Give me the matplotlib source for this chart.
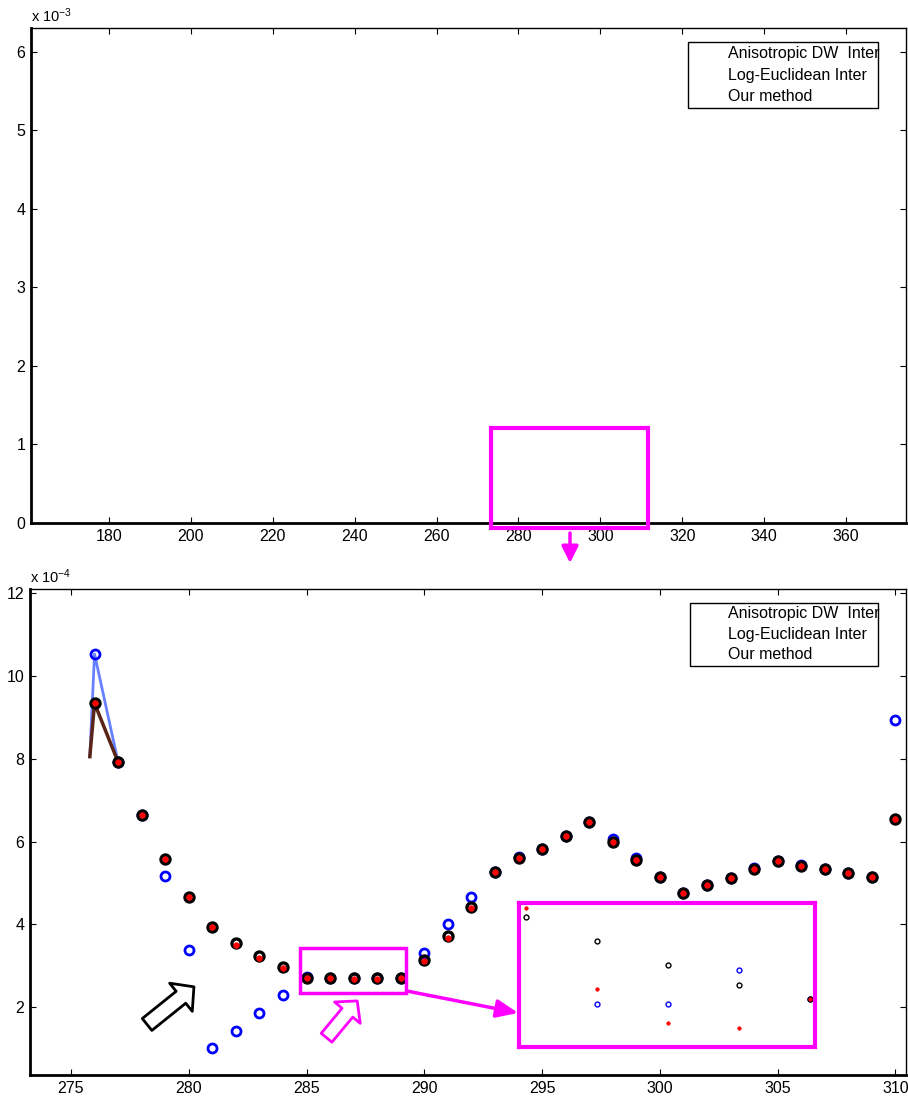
import matplotlib
matplotlib.use("Agg")
import matplotlib.pyplot as plt
from matplotlib.patches import Rectangle

plt.rcParams.update({
    "font.family": ["Liberation Sans", "DejaVu Sans"],
    "font.size": 10,
    "mathtext.default": "regular",
})

MAGENTA = "#ff00ff"
TICK_FONT = ["Liberation Sans Narrow", "Liberation Sans", "DejaVu Sans"]

# top overview axis
top_xticks = [180, 200, 220, 240, 260, 280, 300, 320, 340, 360]
top_yticks = [0, 1, 2, 3, 4, 5, 6]
zoom_box_x = [273.4, 311.7]
zoom_box_y = [-0.06, 1.21]

# bottom detail axis (values in units of 1e-4)
days = list(range(276, 311))
log_euclid = [10.53, 7.92, 6.64, 5.17, 3.39, 1.01, 1.43, 1.86, 2.29,
              2.720, 2.694, 2.694, 2.701, 2.695,
              3.31, 4.00, 4.66, 5.27, 5.63, 5.83, 6.13, 6.46, 6.07, 5.61,
              5.14, 4.76, 4.94, 5.13, 5.37, 5.53, 5.44, 5.33, 5.23, 5.14, 8.93]
aniso_dw = [9.34, 7.92, 6.64, 5.58, 4.67, 3.93, 3.55, 3.24, 2.96,
            2.712, 2.707, 2.702, 2.698, 2.695,
            3.14, 3.72, 4.42, 5.27, 5.59, 5.83, 6.13, 6.46, 5.99, 5.55,
            5.14, 4.76, 4.94, 5.13, 5.34, 5.53, 5.42, 5.33, 5.23, 5.14, 6.55]
our_method = [9.34, 7.92, 6.64, 5.58, 4.67, 3.93, 3.50, 3.19, 2.94,
              2.714, 2.697, 2.690, 2.689, 2.695,
              3.12, 3.68, 4.40, 5.27, 5.59, 5.83, 6.13, 6.46, 5.99, 5.55,
              5.14, 4.76, 4.94, 5.13, 5.34, 5.53, 5.42, 5.33, 5.23, 5.14, 6.55]

# short connecting line segments at the start
line_x = [275.8, 276, 277]
line_le = [8.05, 10.53, 7.92]
line_dw = [8.05, 9.34, 7.92]

bottom_xticks = [275, 280, 285, 290, 295, 300, 305, 310]
bottom_yticks = [2, 4, 6, 8, 10, 12]
small_box_x = [284.72, 289.22]
small_box_y = [2.34, 3.42]
inset_xlim = [284.905, 289.07]
inset_ylim = [2.685, 2.715]

legend_labels = ["Anisotropic DW  Inter", "Log-Euclidean Inter", "Our method"]


def style_axis(ax):
    ax.tick_params(direction="in", length=4, width=0.8, top=True, right=True,
                   labelsize=11.5, pad=4, colors="black")
    for lab in ax.get_xticklabels() + ax.get_yticklabels():
        lab.set_family(TICK_FONT)
    for side in ["left", "bottom"]:
        ax.spines[side].set_linewidth(2)
    for side in ["top", "right"]:
        ax.spines[side].set_linewidth(1)


def box_legend(ax, x0, x1, y0, y1, tx, ty):
    rect = Rectangle((x0, y0), x1 - x0, y1 - y0, transform=ax.transAxes,
                     fill=True, fc="white", ec="black", lw=1, zorder=5)
    ax.add_patch(rect)
    for lab, y in zip(legend_labels, ty):
        t = ax.text(tx, y, lab, transform=ax.transAxes, fontsize=11.5,
                    va="center", ha="left", zorder=6)
        t.set_clip_path(rect)


fig = plt.figure(figsize=(9.08, 10.99), dpi=100)

# ---- top axes
ax1 = fig.add_axes([31 / 908, 1 - 523 / 1099, 875 / 908, 495 / 1099])
ax1.set_xlim(161, 374.6)
ax1.set_ylim(0, 6.3)
ax1.set_xticks(top_xticks)
ax1.set_yticks(top_yticks)
style_axis(ax1)
ax1.add_patch(Rectangle((zoom_box_x[0], zoom_box_y[0]), zoom_box_x[1] - zoom_box_x[0],
                        zoom_box_y[1] - zoom_box_y[0], fill=False, ec=MAGENTA,
                        lw=3, clip_on=False, zorder=4))
box_legend(ax1, 0.7509, 0.968, 0.8384, 0.9717, 0.7966, [0.9475, 0.905, 0.8626])
fig.text(31 / 908, 1 - 22 / 1099, "x 10$^{-3}$", fontsize=10.5, ha="left", va="baseline")

# arrow between the panels
ax1.annotate("", xy=(570 / 908, 1 - 563 / 1099), xycoords="figure fraction",
             xytext=(570 / 908, 1 - 533 / 1099), textcoords="figure fraction",
             arrowprops=dict(arrowstyle="-|>,head_length=10,head_width=5",
                             mutation_scale=1, color=MAGENTA, lw=2.5,
                             shrinkA=0, shrinkB=0))

# ---- bottom axes
ax2 = fig.add_axes([30 / 908, 1 - 1075 / 1099, 876 / 908, 486 / 1099])
ax2.set_xlim(273.26, 310.45)
ax2.set_ylim(0.36, 12.1)
ax2.set_xticks(bottom_xticks)
ax2.set_yticks(bottom_yticks)
style_axis(ax2)

ax2.plot(line_x, line_le, color="#3355ff", lw=2, alpha=0.75, zorder=2)
ax2.plot(line_x, line_dw, color="#5a2418", lw=2.5, zorder=2)
ax2.plot(days, log_euclid, "o", ms=6.5, mfc="none", mec="blue", mew=2, zorder=3)
ax2.plot(days, aniso_dw, "o", ms=6.5, mfc="none", mec="black", mew=2.4, zorder=3)
ax2.plot(days, our_method, "o", ms=4, mfc="red", mec="red", mew=0.5, zorder=4)

ax2.add_patch(Rectangle((small_box_x[0], small_box_y[0]), small_box_x[1] - small_box_x[0],
                        small_box_y[1] - small_box_y[0], fill=False, ec=MAGENTA,
                        lw=2.5, zorder=5))

box_legend(ax2, 0.7534, 0.968, 0.8416, 0.9712, 0.7968, [0.9486, 0.9074, 0.8642])
fig.text(30 / 908, 1 - 583 / 1099, "x 10$^{-4}$", fontsize=10.5, ha="left", va="baseline")

# hollow pointer arrows
ax2.annotate("", xy=(280.22, 2.49), xytext=(278.23, 1.58),
             arrowprops=dict(arrowstyle="simple,head_length=12,head_width=26,tail_width=11",
                             mutation_scale=1, fc="white", ec="black", lw=2,
                             shrinkA=0, shrinkB=0), zorder=6)
ax2.annotate("", xy=(287.15, 2.15), xytext=(285.85, 1.26),
             arrowprops=dict(arrowstyle="simple,head_length=11,head_width=24,tail_width=10",
                             mutation_scale=1, fc="white", ec=MAGENTA, lw=2,
                             shrinkA=0, shrinkB=0), zorder=6)
ax2.annotate("", xy=(293.98, 1.86), xytext=(289.25, 2.39),
             arrowprops=dict(arrowstyle="-|>,head_length=13,head_width=5.5",
                             mutation_scale=1, color=MAGENTA, lw=2.5,
                             shrinkA=0, shrinkB=0), zorder=6)

# ---- inset zoom
axin = fig.add_axes([519 / 908, 1 - 1047 / 1099, 296 / 908, 144 / 1099])
axin.plot(days, log_euclid, "o", ms=3.5, mfc="none", mec="blue", mew=1)
axin.plot(days, aniso_dw, "o", ms=3.5, mfc="none", mec="black", mew=1)
axin.plot(days, our_method, "o", ms=2.5, mfc="red", mec="red", mew=0.5)
axin.set_xlim(inset_xlim)
axin.set_ylim(inset_ylim)
axin.set_xticks([])
axin.set_yticks([])
for s in axin.spines.values():
    s.set_edgecolor(MAGENTA)
    s.set_linewidth(3)

fig.savefig("out.png", dpi=100)
